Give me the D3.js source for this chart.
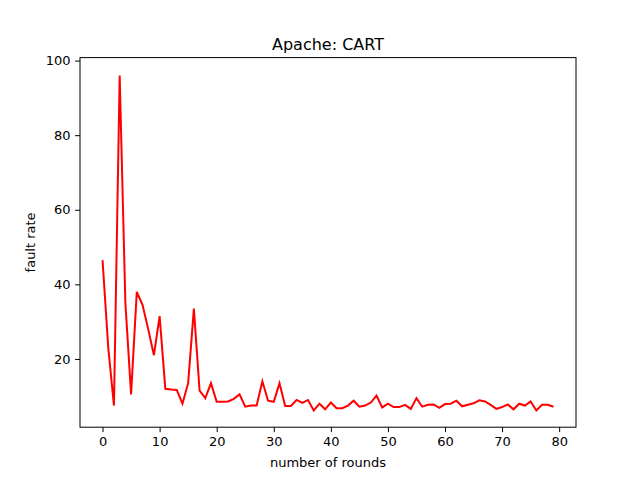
<html>
<head>
<meta charset="utf-8" />
<script src="https://cdnjs.cloudflare.com/ajax/libs/d3/7.8.5/d3.min.js"></script>
<style>
body { margin: 0; background: #fff; }
text { font-family: "DejaVu Sans", sans-serif; }
</style>
</head>
<body>
<div id="container"></div>
<script>
var faultRate = [46.5, 23, 7.5, 96, 35, 10.5, 38, 34.5, 28, 21,
  31.5, 12, 11.8, 11.7, 8, 13.5, 33.5, 11.5, 9.5, 13.5,
  8.5, 8.5, 8.6, 9.3, 10.5, 7.2, 7.5, 7.5, 14, 8.8,
  8.5, 13.5, 7.4, 7.4, 9, 8.2, 9, 6.2, 8, 6.5,
  8.3, 6.8, 6.8, 7.5, 8.8, 7.2, 7.5, 8.3, 10.2, 7,
  8, 7.1, 7.1, 7.7, 6.6, 9.5, 7.2, 7.7, 7.8, 6.9,
  7.9, 8, 8.8, 7.3, 7.7, 8.1, 8.9, 8.6, 7.7, 6.6,
  7.1, 7.8, 6.5, 8, 7.5, 8.6, 6.2, 7.7, 7.7, 7.2];
var xTicks = [0, 10, 20, 30, 40, 50, 60, 70, 80];
var yTicks = [20, 40, 60, 80, 100];

var W = 640, H = 480, m = {top: 57.6, right: 64, bottom: 52.8, left: 80};
var svg = d3.select("#container").append("svg").attr("width", W).attr("height", H);
var x = d3.scaleLinear().domain([-3.95, 82.95]).range([m.left, W - m.right]);
var y = d3.scaleLinear().domain([1.7, 100.8]).range([H - m.bottom, m.top]);

svg.append("g").attr("transform", "translate(0," + (H - m.bottom) + ")")
  .call(d3.axisBottom(x).tickValues(xTicks).tickSize(4.9).tickPadding(4.5))
  .call(g => g.select(".domain").remove())
  .selectAll("text").attr("font-size", 13).attr("fill", "#000");
svg.append("g").attr("transform", "translate(" + m.left + ",0)")
  .call(d3.axisLeft(y).tickValues(yTicks).tickSize(4.9).tickPadding(4.5))
  .call(g => g.select(".domain").remove())
  .selectAll("text").attr("font-size", 13).attr("fill", "#000");

svg.append("path").datum(faultRate)
  .attr("fill", "none").attr("stroke", "red").attr("stroke-width", 2)
  .attr("d", d3.line().x((d, i) => x(i)).y(d => y(d)));

svg.append("rect").attr("x", m.left).attr("y", m.top)
  .attr("width", W - m.left - m.right).attr("height", H - m.top - m.bottom)
  .attr("fill", "none").attr("stroke", "#000").attr("stroke-width", 1);

svg.append("text").attr("x", (m.left + W - m.right) / 2).attr("y", m.top - 8)
  .attr("text-anchor", "middle").attr("font-size", 16).text("Apache: CART");
svg.append("text").attr("x", (m.left + W - m.right) / 2).attr("y", H - 13)
  .attr("text-anchor", "middle").attr("font-size", 13).text("number of rounds");
svg.append("text").attr("transform", "translate(35," + ((m.top + H - m.bottom) / 2) + ") rotate(-90)")
  .attr("text-anchor", "middle").attr("font-size", 13).text("fault rate");
</script>
</body>
</html>
